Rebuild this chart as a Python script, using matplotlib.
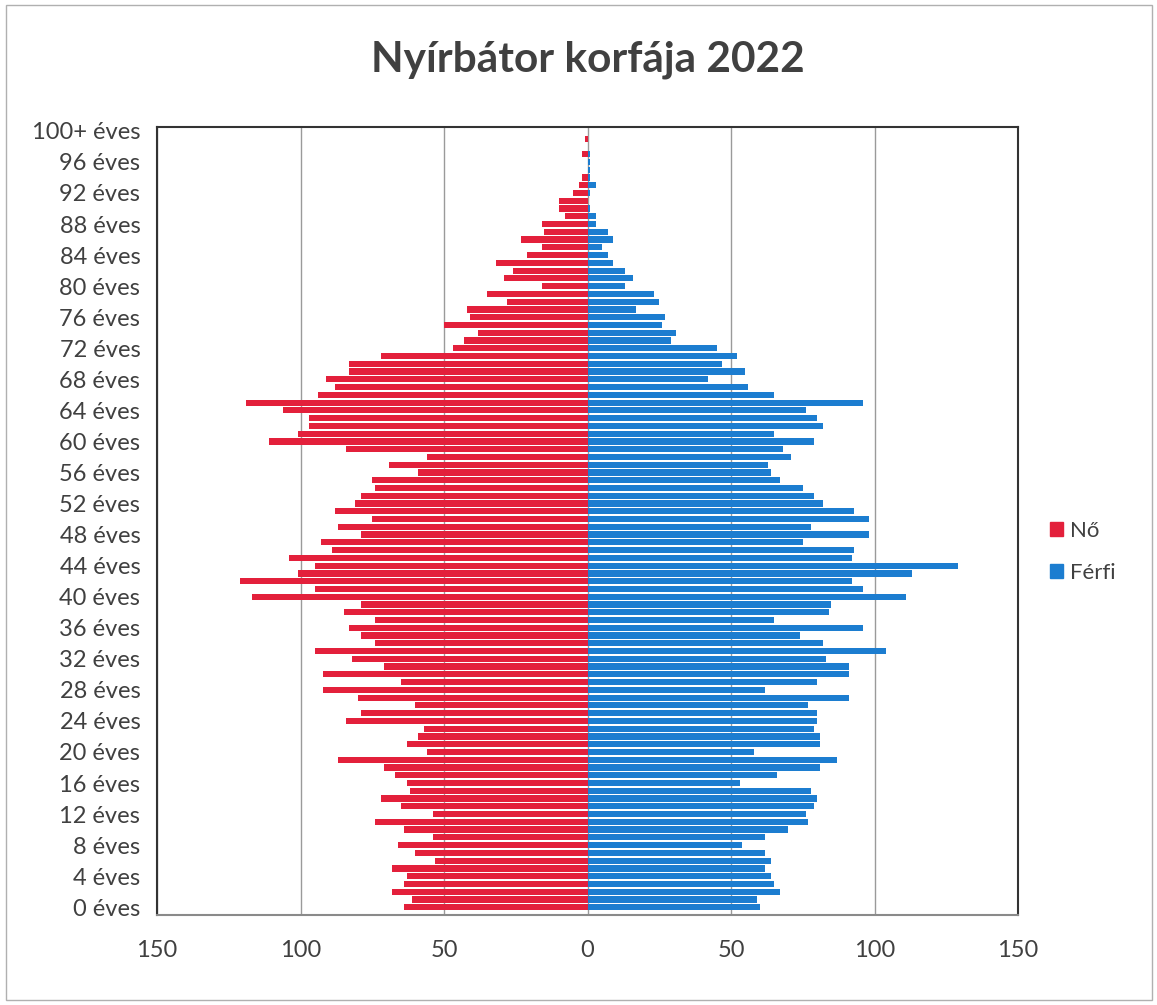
import matplotlib
matplotlib.use("Agg")
import matplotlib.pyplot as plt
from matplotlib.patches import Patch, Rectangle

# age groups 0 .. 100+
ages = [f"{a} éves" for a in range(100)] + ["100+ éves"]

# Nő (women), age 0 -> 100+
no = [64, 61, 68, 64, 63, 68, 53, 60, 66, 54,
      64, 74, 54, 65, 72, 62, 63, 67, 71, 87,
      56, 63, 59, 57, 84, 79, 60, 80, 92, 65,
      92, 71, 82, 95, 74, 79, 83, 74, 85, 79,
      117, 95, 121, 101, 95, 104, 89, 93, 79, 87,
      75, 88, 81, 79, 74, 75, 59, 69, 56, 84,
      111, 101, 97, 97, 106, 119, 94, 88, 91, 83,
      83, 72, 47, 43, 38, 50, 41, 42, 28, 35,
      16, 29, 26, 32, 21, 16, 23, 15, 16, 8,
      10, 10, 5, 3, 2, 0, 0, 2, 0, 1,
      0]

# Férfi (men), age 0 -> 100+
ferfi = [60, 59, 67, 65, 64, 62, 64, 62, 54, 62,
         70, 77, 76, 79, 80, 78, 53, 66, 81, 87,
         58, 81, 81, 79, 80, 80, 77, 91, 62, 80,
         91, 91, 83, 104, 82, 74, 96, 65, 84, 85,
         111, 96, 92, 113, 129, 92, 93, 75, 98, 78,
         98, 93, 82, 79, 75, 67, 64, 63, 71, 68,
         79, 65, 82, 80, 76, 96, 65, 56, 42, 55,
         47, 52, 45, 29, 31, 26, 27, 17, 25, 23,
         13, 16, 13, 9, 7, 5, 9, 7, 3, 3,
         1, 0, 1, 3, 1, 1, 1, 1, 0, 0,
         0]

xticks = [-150, -100, -50, 0, 50, 100, 150]

RED = "#E3203B"
BLUE = "#1C7DD0"
TXT = "#404040"

plt.rcParams["font.family"] = ["Lato", "DejaVu Sans"]

fig = plt.figure(figsize=(11.57, 10.05), dpi=100)
ax = fig.add_axes([157 / 1157, 1 - 915 / 1005, (1018 - 157) / 1157, (915 - 127) / 1005])

y = list(range(len(ages)))
ax.barh(y, [-v for v in no], height=0.8, color=RED, label="Nő", zorder=3)
ax.barh(y, ferfi, height=0.8, color=BLUE, label="Férfi", zorder=3)

ax.set_xlim(-150, 150)
ax.set_ylim(-1.0, 100.5)
ax.set_xticks(xticks)
ax.set_xticklabels([str(abs(t)) for t in xticks], fontsize=17, color=TXT)
ax.set_yticks(y[::4])
ax.set_yticklabels(ages[::4], fontsize=17, color=TXT)
ax.tick_params(length=0, pad=12)
ax.tick_params(axis="x", pad=18)
ax.grid(axis="x", color="#9a9a9a", lw=1.0, zorder=0)
for s in ax.spines.values():
    s.set_color("#333333")
    s.set_linewidth(1.5)
ax.spines["bottom"].set_color("#8a8a8a")

fig.text(588 / 1157, 1 - 60 / 1005, "Nyírbátor korfája 2022", ha="center", va="center",
         fontsize=30.5, fontweight="bold", color=TXT)

handles = [Patch(color=RED, label="Nő"), Patch(color=BLUE, label="Férfi")]
fig.legend(handles=handles, loc="center left", bbox_to_anchor=(1030 / 1157, 1 - 552 / 1005),
           frameon=False, fontsize=16, handlelength=0.6, handleheight=0.6,
           handletextpad=0.3, labelspacing=1.0, labelcolor=TXT)

# outer chart border
fig.patches.append(Rectangle((6 / 1157, 5 / 1005), 1146 / 1157, 995 / 1005, transform=fig.transFigure,
                             fill=False, edgecolor="#b0b0b0", lw=1.0))

plt.savefig("out.png", dpi=100)
plt.close()
